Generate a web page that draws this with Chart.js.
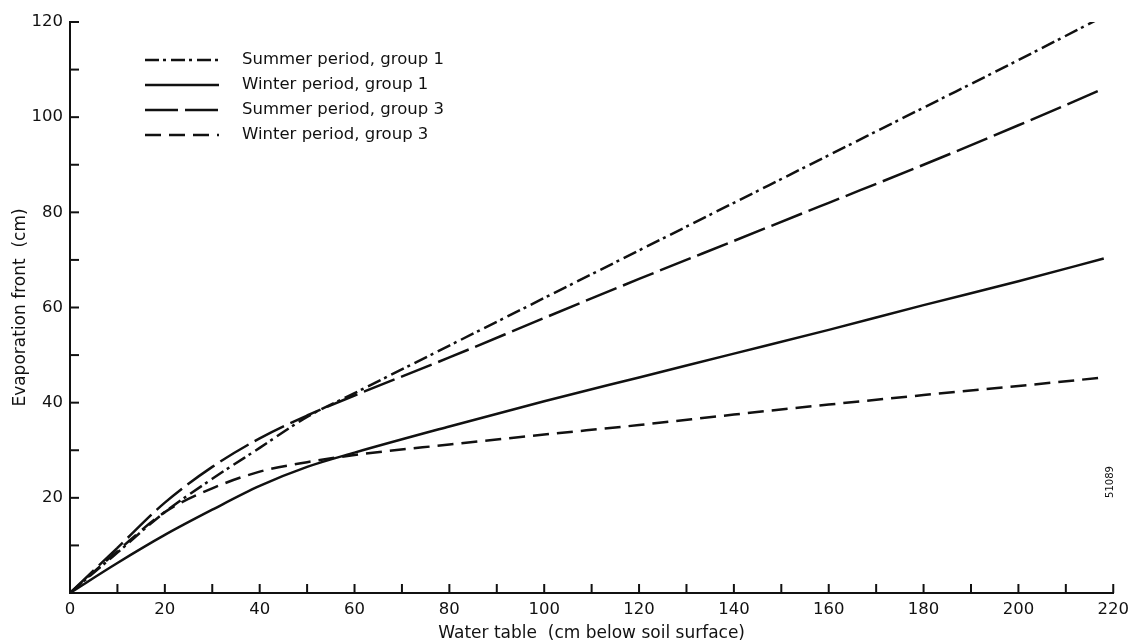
<!DOCTYPE html>
<html>
<head>
<meta charset="utf-8">
<title>Evaporation front vs water table depth</title>
<script src="https://cdn.jsdelivr.net/npm/chart.js@4.4.1/dist/chart.umd.min.js"></script>
<style>
    html, body { margin: 0; padding: 0; background: #fff; }
    #wrap { width: 1136px; height: 644px; }
</style>
</head>
<body>
<div id="wrap"><canvas id="evapChart" width="1136" height="644"></canvas></div>
<script>
// Water table depth (cm below soil surface)
const depths = [0, 10, 20, 30, 40, 50, 60, 80, 100, 120, 140, 160, 180, 200, 218];

// Evaporation front (cm)
const summerGroup1 = [0, 8.5, 17, 24, 30.5, 37, 42, 52, 62, 72, 82, 92, 102, 112, 121.2];
const winterGroup1 = [0, 6.3, 12.2, 17.5, 22.5, 26.5, 29.5, 35, 40.3, 45.3, 50.3, 55.3, 60.5, 65.5, 70.3];
const summerGroup3 = [0, 9.5, 19, 26.5, 32.5, 37.3, 41.5, 49.5, 57.8, 66, 74, 82, 90, 98.3, 106];
const winterGroup3 = [0, 8.8, 17, 22, 25.5, 27.5, 29, 31.2, 33.3, 35.3, 37.5, 39.6, 41.6, 43.5, 45.3];

const seriesLabels = [
    'Summer period, group 1',
    'Winter period, group 1',
    'Summer period, group 3',
    'Winter period, group 3'
];

// labelled ticks (minor ticks every 10 are unlabelled)
const xTickLabels = [0, 20, 40, 60, 80, 100, 120, 140, 160, 180, 200, 220];
const yTickLabels = [20, 40, 60, 80, 100, 120];

const INK = '#111';
const FONT = '"DejaVu Sans", sans-serif';

function toPoints(values) {
    return values.map((v, i) => ({ x: depths[i], y: v }));
}

function line(label, values, dash) {
    return {
        label: label,
        data: toPoints(values),
        borderColor: INK,
        borderWidth: 2.5,
        borderDash: dash,
        pointRadius: 0,
        fill: false,
        cubicInterpolationMode: 'monotone'
    };
}

// tick marks pointing into the plot, like the original drawing
const inwardTicks = {
    id: 'inwardTicks',
    afterDraw(chart) {
        const { ctx, chartArea } = chart;
        const x = chart.scales.x, y = chart.scales.y;
        ctx.save();
        ctx.strokeStyle = INK;
        ctx.lineWidth = 2;
        ctx.setLineDash([]);
        x.ticks.forEach(t => {
            if (t.value === 0) return;
            const px = x.getPixelForValue(t.value);
            ctx.beginPath();
            ctx.moveTo(px, chartArea.bottom);
            ctx.lineTo(px, chartArea.bottom - 9);
            ctx.stroke();
        });
        y.ticks.forEach(t => {
            if (t.value === 0) return;
            const py = y.getPixelForValue(t.value);
            ctx.beginPath();
            ctx.moveTo(chartArea.left, py);
            ctx.lineTo(chartArea.left + 9, py);
            ctx.stroke();
        });
        ctx.restore();
    }
};

// legend sits inside the plot, top left
const insetLegend = {
    id: 'insetLegend',
    afterDatasetsDraw(chart) {
        const ctx = chart.ctx;
        ctx.save();
        chart.data.datasets.forEach((ds, i) => {
            const yy = 60 + i * 25;
            ctx.strokeStyle = ds.borderColor;
            ctx.lineWidth = 2.5;
            ctx.setLineDash(ds.borderDash || []);
            ctx.beginPath();
            ctx.moveTo(145, yy);
            ctx.lineTo(219, yy);
            ctx.stroke();
            ctx.setLineDash([]);
            ctx.fillStyle = INK;
            ctx.font = '16.5px ' + FONT;
            ctx.textBaseline = 'middle';
            ctx.textAlign = 'left';
            ctx.fillText(ds.label, 242, yy);
        });
        // figure number stamp
        ctx.translate(1110, 482);
        ctx.rotate(-Math.PI / 2);
        ctx.font = '10px ' + FONT;
        ctx.textAlign = 'center';
        ctx.fillText('51089', 0, 0);
        ctx.restore();
    }
};

new Chart(document.getElementById('evapChart'), {
    type: 'line',
    data: {
        datasets: [
            line(seriesLabels[0], summerGroup1, [14, 4, 3, 5]),
            line(seriesLabels[1], winterGroup1, []),
            line(seriesLabels[2], summerGroup3, [33, 7]),
            line(seriesLabels[3], winterGroup3, [16, 8])
        ]
    },
    options: {
        responsive: false,
        animation: false,
        devicePixelRatio: 1,
        layout: { padding: { top: 22, right: 21, left: 0, bottom: 0 } },
        plugins: {
            legend: { display: false },
            tooltip: { enabled: false }
        },
        scales: {
            x: {
                type: 'linear',
                min: 0,
                max: 220,
                border: { color: INK, width: 2 },
                grid: { drawOnChartArea: false, drawTicks: false },
                ticks: {
                    stepSize: 10,
                    padding: 7,
                    color: INK,
                    font: { family: FONT, size: 16.5 },
                    maxRotation: 0,
                    autoSkip: false,
                    callback: v => xTickLabels.includes(v) ? String(v) : ''
                },
                title: {
                    display: true,
                    text: 'Water table  (cm below soil surface)',
                    color: INK,
                    font: { family: FONT, size: 17 },
                    padding: { top: 0, bottom: 0 }
                },
                afterFit: s => { s.height = 51; }
            },
            y: {
                min: 0,
                max: 120,
                border: { color: INK, width: 2 },
                grid: { drawOnChartArea: false, drawTicks: false },
                ticks: {
                    stepSize: 10,
                    padding: 7,
                    color: INK,
                    font: { family: FONT, size: 16.5 },
                    autoSkip: false,
                    callback: v => yTickLabels.includes(v) ? String(v) : ''
                },
                title: {
                    display: true,
                    text: 'Evaporation front  (cm)',
                    color: INK,
                    font: { family: FONT, size: 17 },
                    padding: { top: 10, bottom: 0 }
                },
                afterFit: s => { s.width = 70; }
            }
        }
    },
    plugins: [inwardTicks, insetLegend]
});
</script>
</body>
</html>
